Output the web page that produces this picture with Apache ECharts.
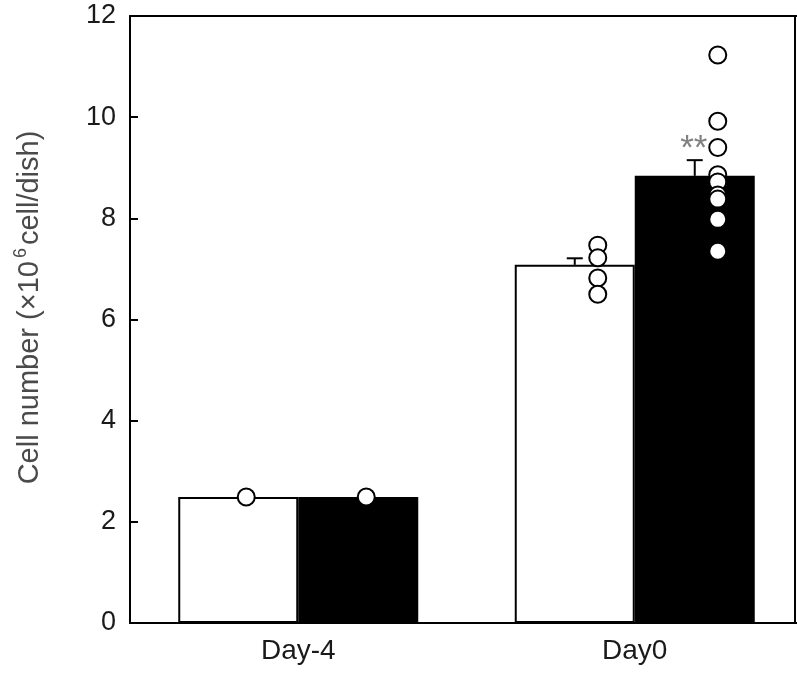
<!DOCTYPE html>
<html>
<head>
<meta charset="utf-8">
<script src="https://cdn.jsdelivr.net/npm/echarts@6/dist/echarts.min.js"></script>
<style>
  html, body { margin: 0; padding: 0; background: #fff; overflow: hidden; }
  /* the figure was cropped on the right, so the canvas runs a little past the window */
  #chart { width: 810px; height: 674px; }
</style>
</head>
<body>
<div id="chart"></div>
<script>
// data
const categories = ['Day-4', 'Day0'];
const yTicks = [0, 2, 4, 6, 8, 10, 12];
const ctrlMean = [2.49, 7.08];
const ctrlErr = [0, 0.13];
const trtMean = [2.49, 8.84];
const trtErr = [0, 0.31];
const ctrlPoints = [[2.49], [7.47, 7.22, 6.82, 6.50]];
const trtPoints = [[2.49], [11.23, 9.92, 9.40, 8.86, 8.72, 8.46, 8.38, 7.98, 7.35]];
const trtMarks = ['', '**'];

// layout
const BAR_W = 120;
const pointShift = [8, 23]; // dots sit a bit right of the bar centre
const fontFamily = '"Liberation Sans", Arial, sans-serif';

const chart = echarts.init(document.getElementById('chart'));

// error bars: [category, mean, err, side]
const errData = [];
categories.forEach((c, i) => {
  errData.push([i, ctrlMean[i], ctrlErr[i], -1]);
  errData.push([i, trtMean[i], trtErr[i], 1]);
});
const errMarks = [];
categories.forEach((c, i) => { errMarks.push(''); errMarks.push(trtMarks[i]); });

// individual points: [category, value, side]
const pointData = [];
categories.forEach((c, i) => {
  ctrlPoints[i].forEach(v => pointData.push([i, v, -1]));
  trtPoints[i].forEach(v => pointData.push([i, v, 1]));
});

const renderErr = (params, api) => {
  const idx = api.value(0);
  const mean = api.value(1);
  const err = api.value(2);
  const side = api.value(3);
  const mark = errMarks[params.dataIndex];
  const base = api.coord([idx, mean]);
  const top = api.coord([idx, mean + err]);
  const x = base[0] + side * BAR_W / 2;
  const children = [];
  if (err > 0) {
    children.push({
      type: 'line',
      shape: { x1: x, y1: base[1], x2: x, y2: top[1] },
      style: { stroke: '#000', lineWidth: 2 }
    });
    children.push({
      type: 'line',
      shape: { x1: x - 8, y1: top[1], x2: x + 8, y2: top[1] },
      style: { stroke: '#000', lineWidth: 2 }
    });
  }
  if (mark) {
    children.push({
      type: 'text',
      style: {
        x: x - 1,
        y: top[1] - 11,
        text: mark,
        fill: '#808080',
        font: '35px ' + fontFamily,
        align: 'center',
        verticalAlign: 'middle'
      }
    });
  }
  return { type: 'group', children: children };
};

const renderPoint = (params, api) => {
  const idx = api.value(0);
  const side = api.value(2);
  const p = api.coord([idx, api.value(1)]);
  return {
    type: 'circle',
    shape: { cx: p[0] + side * BAR_W / 2 + pointShift[idx], cy: p[1], r: 8.5 },
    style: { fill: '#fff', stroke: '#000', lineWidth: 2 }
  };
};

const option = {
  animation: false,
  backgroundColor: '#fff',
  grid: { left: 130, right: 7, top: 16, bottom: 51 },
  xAxis: [
    {
      type: 'category',
      data: categories,
      position: 'bottom',
      axisLine: { lineStyle: { color: '#000', width: 2 } },
      axisTick: { show: false },
      axisLabel: { fontSize: 28, color: '#1a1a1a', margin: 14, fontFamily: fontFamily }
    },
    {
      type: 'category',
      data: categories,
      position: 'top',
      axisLine: { onZero: false, lineStyle: { color: '#000', width: 2 } },
      axisTick: { show: false },
      axisLabel: { show: false }
    }
  ],
  yAxis: [
    {
      type: 'value',
      min: yTicks[0],
      max: yTicks[yTicks.length - 1],
      interval: yTicks[1] - yTicks[0],
      axisLine: { show: true, lineStyle: { color: '#000', width: 2 } },
      axisTick: { show: true, inside: true, length: 8, lineStyle: { color: '#000', width: 2 } },
      axisLabel: { fontSize: 27, color: '#1a1a1a', margin: 14, fontFamily: fontFamily },
      splitLine: { show: false },
      name: '{a|Cell number (×10}{sup|6}{a|cell/dish)}',
      nameLocation: 'middle',
      nameGap: 82,
      nameRotate: 90,
      nameTextStyle: {
        padding: [0, 0, 0, 24],
        rich: {
          a: { fontSize: 29, color: '#4a4a4a', fontFamily: fontFamily },
          sup: { fontSize: 18, color: '#4a4a4a', fontFamily: fontFamily, padding: [0, 3, 18, 3] }
        }
      }
    },
    {
      type: 'value',
      min: yTicks[0],
      max: yTicks[yTicks.length - 1],
      interval: yTicks[1] - yTicks[0],
      position: 'right',
      offset: -8,
      axisLine: { show: true, onZero: false, lineStyle: { color: '#000', width: 2 } },
      axisTick: { show: false },
      axisLabel: { show: false },
      splitLine: { show: false }
    }
  ],
  series: [
    {
      name: 'control',
      type: 'bar',
      data: ctrlMean,
      barWidth: BAR_W,
      barGap: '0%',
      itemStyle: { color: '#fff', borderColor: '#000', borderWidth: 2 }
    },
    {
      name: 'treated',
      type: 'bar',
      data: trtMean,
      barWidth: BAR_W,
      barGap: '0%',
      itemStyle: { color: '#000', borderColor: '#000', borderWidth: 2 }
    },
    {
      type: 'custom',
      renderItem: renderErr,
      data: errData,
      z: 3
    },
    {
      type: 'custom',
      renderItem: renderPoint,
      data: pointData,
      z: 4
    }
  ]
};

chart.setOption(option);
</script>
</body>
</html>
